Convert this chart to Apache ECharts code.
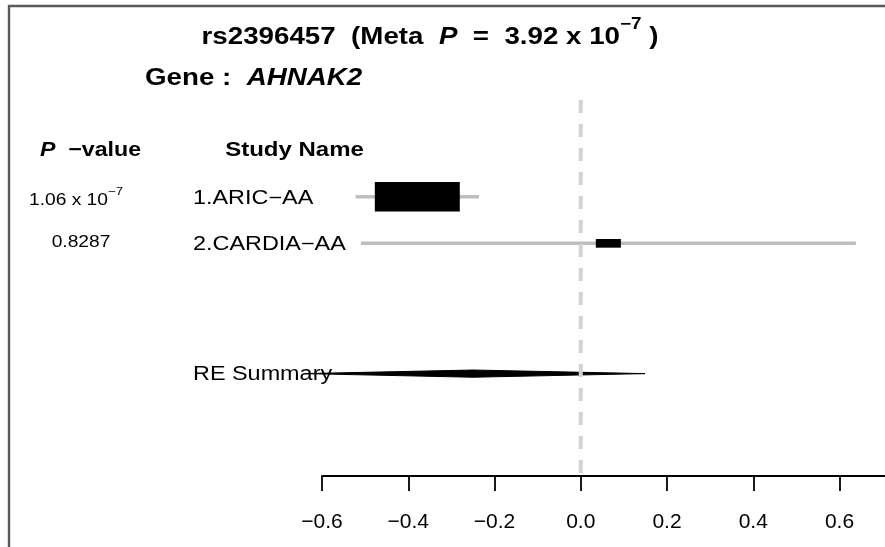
<!DOCTYPE html>
<html>
<head>
<meta charset="utf-8">
<script src="https://cdn.jsdelivr.net/npm/echarts@6/dist/echarts.min.js"></script>
<style>
  html, body { margin: 0; padding: 0; background: #fff; }
  #chart { width: 885px; height: 547px; }
</style>
</head>
<body>
<div id="chart"></div>
<script>
// ---- forest plot data ----
const snpId = 'rs2396457';
const metaPBase = '3.92 x 10';
const metaPExp = '\u22127';
const geneName = 'AHNAK2';

const studyNames = ['1.ARIC\u2212AA', '2.CARDIA\u2212AA'];
const studyRows = [1, 2];
const effects = [-0.379, 0.064];
const ciLower = [-0.522, -0.510];
const ciUpper = [-0.236, 0.638];
const studyWeights = [0.92, 0.08];
const pValueBase = ['1.06 x 10', '0.8287'];
const pValueExp = ['\u22127', ''];

const summaryName = 'RE Summary';
const summaryRow = 4.8;
const summaryEffect = -0.25;
const summaryLower = -0.64;
const summaryUpper = 0.149;

const nullEffect = 0;
const xTicks = [-0.6, -0.4, -0.2, 0.0, 0.2, 0.4, 0.6];

// ---- layout / style ----
const FONT = "'Liberation Sans', Arial, sans-serif";
const STRETCH = 1.2;          // horizontal text stretch
const Y_MIN = -1.08, Y_MAX = 7;
const BOX_W = 85, BOX_H = 29.5;
const maxWeight = Math.max(...studyWeights);

const forestData = studyNames.map((n, i) =>
  [effects[i], studyRows[i], ciLower[i], ciUpper[i], studyWeights[i], 0]);
forestData.push([summaryEffect, summaryRow, summaryLower, summaryUpper, 0, 1]);

function renderForest(params, api) {
  const est = api.value(0), row = api.value(1);
  const lo = api.value(2), hi = api.value(3), w = api.value(4), kind = api.value(5);
  const c = api.coord([est, row]);
  const l = api.coord([lo, row]);
  const h = api.coord([hi, row]);
  if (kind === 1) {
    const hh = 3.6;
    return {
      type: 'polygon',
      shape: { points: [[l[0], c[1]], [c[0], c[1] - hh], [h[0], c[1]], [c[0], c[1] + hh]] },
      style: { fill: '#000', stroke: '#000', lineWidth: 1 }
    };
  }
  const s = Math.sqrt(w / maxWeight);
  const bw = BOX_W * s, bh = BOX_H * s;
  return {
    type: 'group',
    children: [
      { type: 'line', shape: { x1: l[0], y1: c[1], x2: h[0], y2: c[1] },
        style: { stroke: '#bebebe', lineWidth: 3.5 } },
      { type: 'rect', shape: { x: c[0] - bw / 2, y: c[1] - bh / 2, width: bw, height: bh },
        style: { fill: '#000' } }
    ]
  };
}

const chart = echarts.init(document.getElementById('chart'), null, { renderer: 'canvas' });

chart.setOption({
  animation: false,
  backgroundColor: '#fff',
  grid: { left: 322, top: 100, width: 603.75, height: 376, outerBoundsMode: 'none', containLabel: false },
  xAxis: {
    type: 'value',
    min: -0.6, max: 0.8, interval: 0.2,
    axisLine: { onZero: false, lineStyle: { color: '#000', width: 1.8 } },
    axisTick: { length: 15, customValues: xTicks, lineStyle: { color: '#000', width: 1.8 } },
    axisLabel: {
      customValues: xTicks,
      margin: 36,
      color: '#000',
      fontFamily: FONT,
      fontSize: 21,
      formatter: v => (v < -1e-9 ? '\u2212' + (-v).toFixed(1) : Math.abs(v).toFixed(1))
    },
    splitLine: { show: false }
  },
  yAxis: { type: 'value', min: Y_MIN, max: Y_MAX, inverse: true, show: false },
  series: [
    {
      type: 'custom',
      name: 'forest',
      renderItem: renderForest,
      data: forestData,
      encode: { x: [0, 2, 3], y: 1 },
      clip: false,
      z: 2,
      silent: true
    },
    {
      type: 'line',
      name: 'null effect',
      data: [[nullEffect, Y_MIN], [nullEffect, Y_MAX]],
      symbol: 'none',
      lineStyle: { color: '#d3d3d3', width: 4, type: [13, 11], cap: 'butt' },
      z: 3,
      silent: true
    }
  ]
});

const rowY = r => chart.convertToPixel({ yAxisIndex: 0 }, r);

function txt(x, y, text, opts, sx) {
  return {
    type: 'text', x: x, y: y, scaleX: sx || STRETCH, z: 1, silent: true,
    style: Object.assign({
      text: text, fill: '#000', fontFamily: FONT,
      align: 'left', textAlign: 'left', verticalAlign: 'middle', textVerticalAlign: 'middle'
    }, opts)
  };
}

const supStyle = (size, lh, bold) => ({
  fontFamily: FONT, fontSize: size, fontWeight: bold ? 'bold' : 'normal',
  lineHeight: lh, verticalAlign: 'top', fill: '#000'
});

const graphics = [];

// frame
graphics.push({
  type: 'rect', silent: true, z: 0,
  shape: { x: 9, y: 6, width: 1000, height: 1000 },
  style: { fill: 'none', stroke: '#5a5a5a', lineWidth: 2.4 }
});

// title
const tb = { fontFamily: FONT, fontSize: 23.5, fontWeight: 'bold', lineHeight: 42, fill: '#000' };
graphics.push(txt(430, 38,
  '{b|' + snpId + '  (Meta  }{bi|P}{b|  =  ' + metaPBase + '}{sup|' + metaPExp + '}{b| )}',
  { align: 'center', textAlign: 'center',
    rich: { b: tb, bi: Object.assign({}, tb, { fontStyle: 'italic' }), sup: supStyle(16, 14, true) } },
  1.18));

// gene line
const gb = { fontFamily: FONT, fontSize: 23.5, fontWeight: 'bold', fill: '#000' };
graphics.push(txt(145, 79,
  '{b|Gene :  }{bi|' + geneName + '}',
  { rich: { b: gb, bi: Object.assign({}, gb, { fontStyle: 'italic' }) } }, 1.18));

// column headers
const hb = { fontFamily: FONT, fontSize: 20, fontWeight: 'bold', fill: '#000' };
const headerY = rowY(0);
graphics.push(txt(90.5, headerY, '{bi|P}{b|  \u2212value}',
  { align: 'center', textAlign: 'center',
    rich: { b: hb, bi: Object.assign({}, hb, { fontStyle: 'italic' }) } }, 1.16));
graphics.push(txt(294.5, headerY, 'Study Name',
  { align: 'center', textAlign: 'center', fontSize: 20, fontWeight: 'bold' }));

// study rows
studyNames.forEach((name, i) => {
  const y = rowY(studyRows[i]);
  graphics.push(txt(193, y + 1.5, name, { fontSize: 19.5 }));
  const pb = { fontFamily: FONT, fontSize: 16, lineHeight: 29, fill: '#000' };
  if (pValueExp[i]) {
    graphics.push(txt(76, y + 3.7, '{p|' + pValueBase[i] + '}{sup|' + pValueExp[i] + '}',
      { align: 'center', textAlign: 'center', rich: { p: pb, sup: supStyle(11, 12, false) } }));
  } else {
    graphics.push(txt(81, y - 1, pValueBase[i],
      { align: 'center', textAlign: 'center', fontSize: 16 }));
  }
});

// summary row label
graphics.push(txt(193, rowY(summaryRow) + 1, summaryName, { fontSize: 19.5 }));

chart.setOption({ graphic: { elements: graphics } });
</script>
</body>
</html>
